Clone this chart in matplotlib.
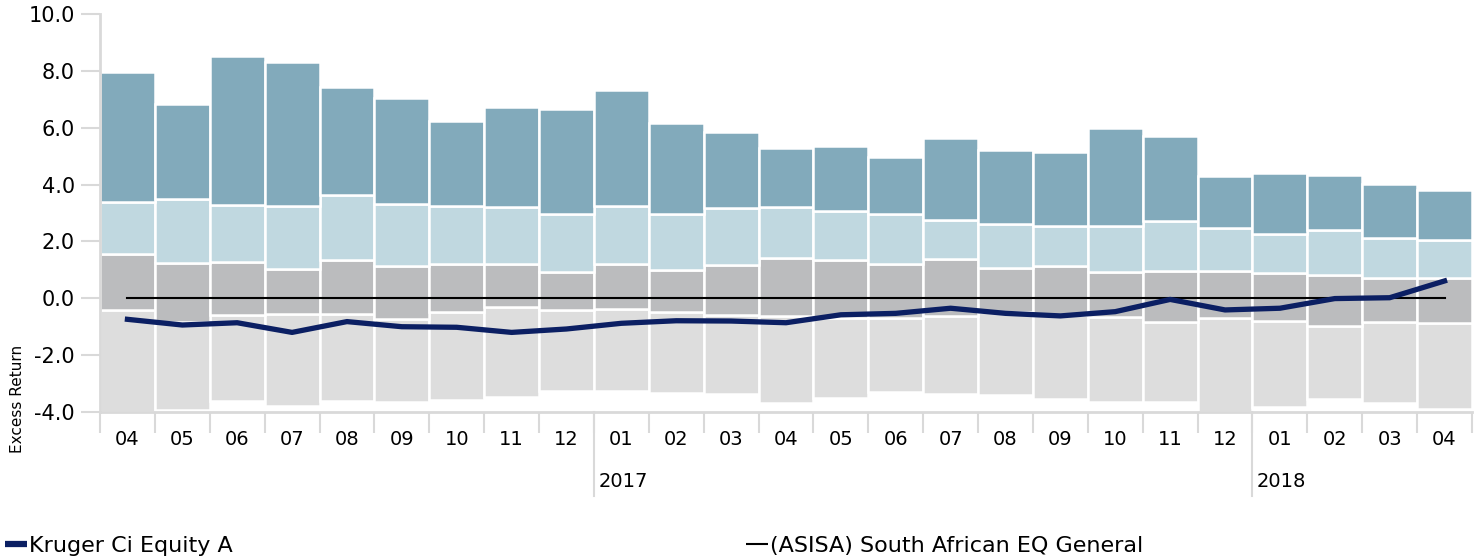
import matplotlib.pyplot as plt
import matplotlib.transforms as mtransforms
from matplotlib.lines import Line2D
import numpy as np

months = ['04', '05', '06', '07', '08', '09', '10', '11', '12', '01', '02', '03',
          '04', '05', '06', '07', '08', '09', '10', '11', '12', '01', '02', '03', '04']
years = {9: '2017', 21: '2018'}

q_min = [-4.00, -3.93, -3.60, -3.79, -3.60, -3.64, -3.57, -3.46, -3.26, -3.26, -3.33, -3.37, -3.67,
         -3.50, -3.28, -3.36, -3.39, -3.53, -3.64, -3.64, -4.00, -3.81, -3.53, -3.67, -3.88]
q_25 = [-0.40, -0.85, -0.59, -0.56, -0.56, -0.73, -0.48, -0.29, -0.41, -0.38, -0.47, -0.59, -0.62,
        -0.68, -0.68, -0.61, -0.48, -0.58, -0.65, -0.82, -0.70, -0.79, -0.97, -0.83, -0.86]
q_med = [1.55, 1.23, 1.27, 1.02, 1.34, 1.14, 1.21, 1.20, 0.93, 1.20, 1.01, 1.18, 1.41,
         1.35, 1.22, 1.37, 1.08, 1.15, 0.91, 0.97, 0.97, 0.90, 0.81, 0.72, 0.70]
q_75 = [3.38, 3.49, 3.28, 3.26, 3.63, 3.33, 3.24, 3.22, 2.95, 3.26, 2.98, 3.17, 3.21,
        3.08, 2.95, 2.75, 2.62, 2.53, 2.55, 2.71, 2.47, 2.26, 2.41, 2.12, 2.04]
q_max = [7.96, 6.83, 8.52, 8.31, 7.43, 7.05, 6.24, 6.73, 6.66, 7.33, 6.17, 5.85, 5.29,
         5.36, 4.97, 5.64, 5.22, 5.15, 5.99, 5.71, 4.30, 4.41, 4.34, 4.02, 3.81]
fund = [-0.74, -0.94, -0.86, -1.20, -0.82, -1.00, -1.02, -1.20, -1.08, -0.88, -0.79, -0.80, -0.86,
        -0.58, -0.53, -0.35, -0.53, -0.62, -0.47, -0.04, -0.41, -0.35, -0.01, 0.02, 0.61]
bench = [0.0] * len(months)

plt.rcParams['font.family'] = ['DejaVu Sans']

fig = plt.figure(figsize=(14.83, 5.6), dpi=100)
ax = fig.add_axes([100 / 1483, 1 - 412 / 560, 1372 / 1483, 398 / 560])

x = np.arange(len(months))
bands = [(q_min, q_25, '#dddddd'), (q_25, q_med, '#bbbcbe'),
         (q_med, q_75, '#c0d8e0'), (q_75, q_max, '#82aabb')]
for lo, hi, col in bands:
    lo = np.array(lo)
    hi = np.array(hi)
    ax.bar(x, hi - lo, bottom=lo, width=1.0, color=col, edgecolor='white', linewidth=1.8, zorder=1)

ax.plot(x, bench, color='black', linewidth=1.5, zorder=3)
ax.plot(x, fund, color='#0b1f63', linewidth=3.8, solid_joinstyle='round', zorder=4)

ax.set_xlim(-0.5, len(months) - 0.5)
ax.set_ylim(-4, 10)
ax.set_yticks(np.arange(-4, 10.1, 2))
ax.set_yticklabels([f'{v:.1f}' for v in np.arange(-4, 10.1, 2)], fontsize=15)
ax.tick_params(axis='y', length=14, width=1.5, color='#d9d9d9', pad=4)

ax.set_xticks(np.arange(-0.5, len(months), 1))
ax.set_xticklabels([])
ax.tick_params(axis='x', length=15, width=1.5, color='#d9d9d9')

for s in ['top', 'right']:
    ax.spines[s].set_visible(False)
for s in ['left', 'bottom']:
    ax.spines[s].set_color('#d9d9d9')
    ax.spines[s].set_linewidth(2)
    ax.spines[s].set_zorder(5)

trans = mtransforms.blended_transform_factory(ax.transData, ax.transAxes)
for i, m in enumerate(months):
    ax.text(i, -0.07, m, transform=trans, ha='center', va='center', fontsize=14)
for i, yr in years.items():
    ax.plot([i - 0.5, i - 0.5], [0, -0.21], transform=trans, color='#d9d9d9',
            linewidth=1.5, clip_on=False)
    ax.text(i - 0.5 + 0.08, -0.175, yr, transform=trans, ha='left', va='center', fontsize=14)

fig.text(18 / 1483, 1 - 399 / 560, 'Excess Return', rotation=90, ha='center', va='center', fontsize=11)

handles = [Line2D([], [], color='#0b1f63', linewidth=4.5, solid_capstyle='butt')]
fig.legend(handles, ['Kruger Ci Equity A'], loc='center left', bbox_to_anchor=(5 / 1483, 1 - 546 / 560),
           frameon=False, fontsize=16, handlelength=1.0, handletextpad=0.1, borderaxespad=0,
           borderpad=0)
handles2 = [Line2D([], [], color='black', linewidth=1.5, solid_capstyle='butt')]
fig.legend(handles2, ['(ASISA) South African EQ General'], loc='center left',
           bbox_to_anchor=(746 / 1483, 1 - 546 / 560),
           frameon=False, fontsize=16, handlelength=1.0, handletextpad=0.1, borderaxespad=0,
           borderpad=0)

fig.savefig('out.png', dpi=100)
